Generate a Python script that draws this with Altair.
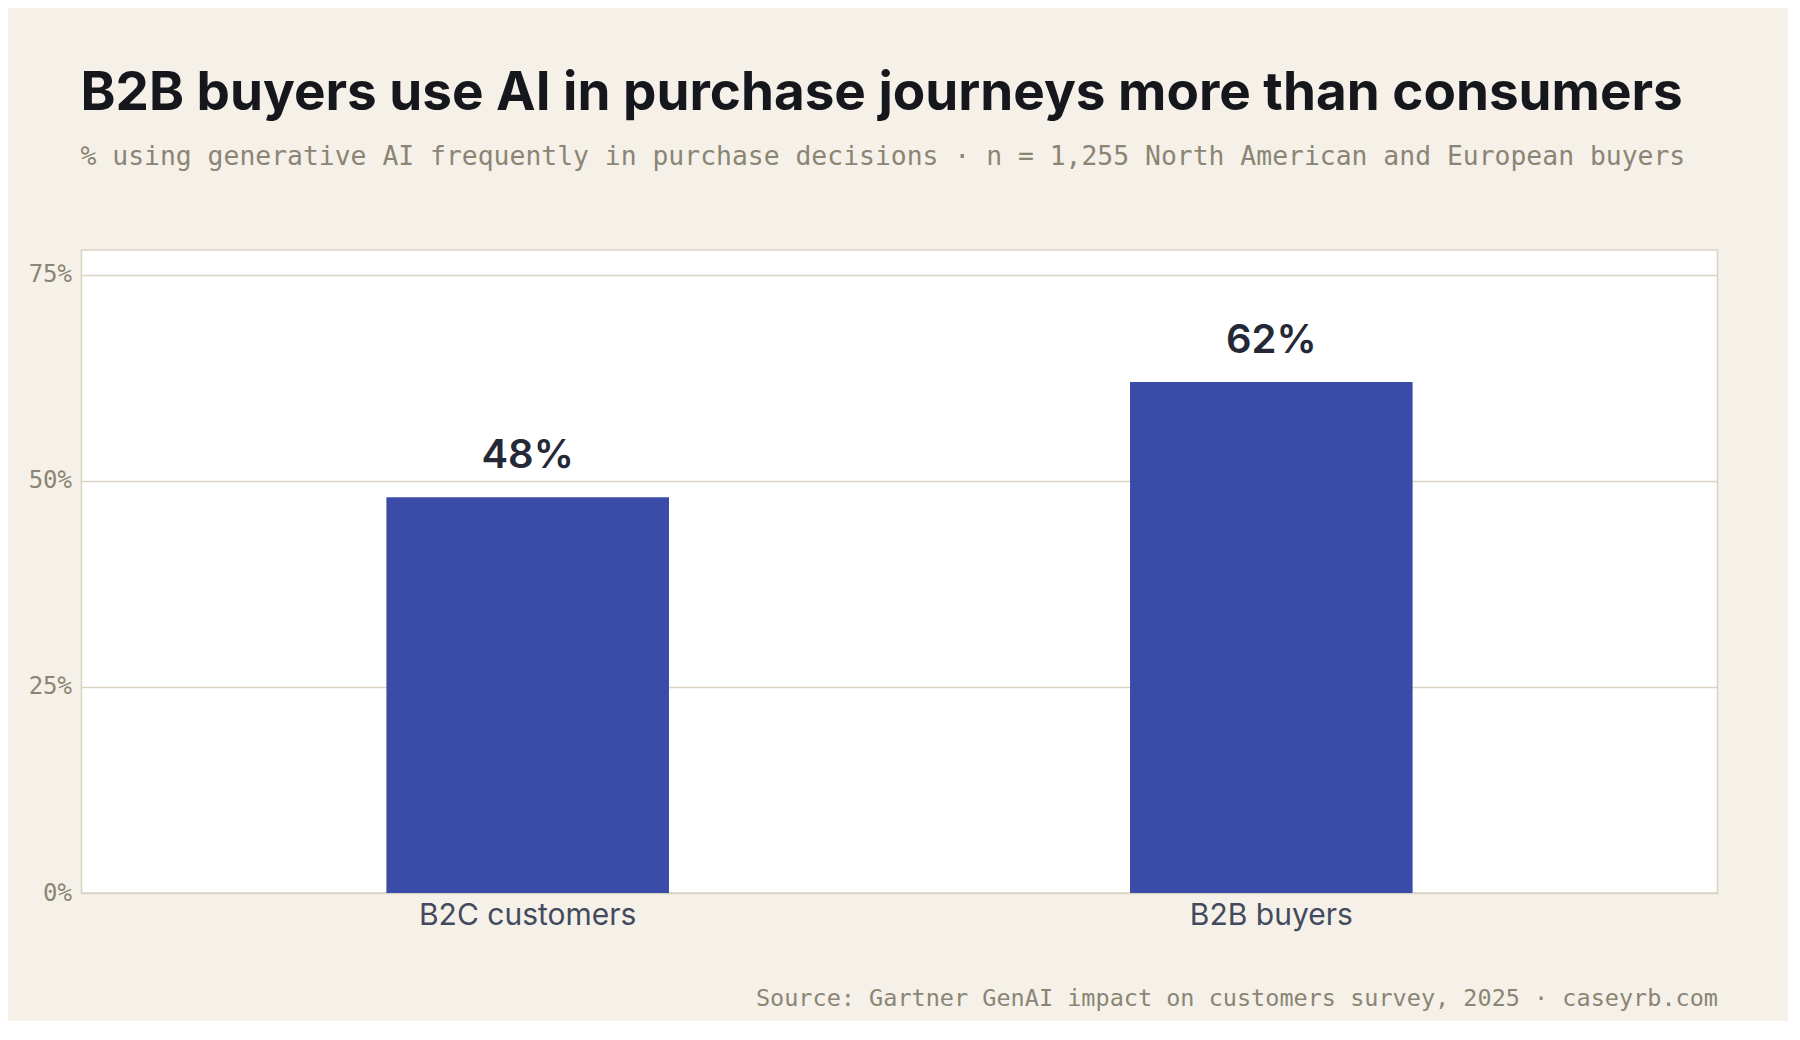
import altair as alt
import pandas as pd

categories = ["B2C customers", "B2B buyers"]
values = [48, 62]
y_ticks = [0, 25, 50, 75]

TITLE = "B2B buyers use AI in purchase journeys more than consumers"
SUBTITLE = "% using generative AI frequently in purchase decisions \u00b7 n = 1,255 North American and European buyers"
SOURCE = "Source: Gartner GenAI impact on customers survey, 2025 \u00b7 caseyrb.com"

df = pd.DataFrame({"segment": categories, "share": values})

BG = "#f5f1e9"
GRID = "#dbd3c3"
MUTED = "#8b8574"
BAR = "#3a4ba8"
MONO = "DejaVu Sans Mono"

x = alt.X(
    "segment:N",
    sort=categories,
    scale=alt.Scale(paddingInner=0.62, paddingOuter=0.41),
    axis=alt.Axis(
        title=SOURCE,
        titleFont=MONO,
        titleFontSize=23.5,
        titleFontWeight="normal",
        titleColor=MUTED,
        titleAnchor="end",
        titleAlign="right",
        titlePadding=56,
        labelFont="Inter",
        labelFontSize=30,
        labelColor="#444a5e",
        labelPadding=7,
        labelAngle=0,
        labelLimit=0,
        ticks=False,
        domain=False,
        grid=False,
    ),
)

y = alt.Y(
    "share:Q",
    scale=alt.Scale(domain=[0, 78], nice=False),
    axis=alt.Axis(
        title=None,
        values=y_ticks,
        labelExpr="datum.value + '%'",
        labelFont=MONO,
        labelFontSize=24,
        labelColor=MUTED,
        labelPadding=10,
        ticks=False,
        domain=False,
        grid=True,
        gridColor=GRID,
        gridWidth=1.5,
    ),
)

bars = alt.Chart(df).mark_bar(color=BAR).encode(x=x, y=y)

labels = (
    alt.Chart(df)
    .transform_calculate(lbl="datum.share + '%'")
    .mark_text(
        font="Inter",
        fontSize=40,
        fontWeight=600,
        color="#252836",
        baseline="alphabetic",
        align="center",
        dy=-29,
    )
    .encode(x=alt.X("segment:N", sort=categories), y="share:Q", text="lbl:N")
)

chart = (
    alt.layer(bars, labels)
    .properties(
        width=1636,
        height=643,
        background=BG,
        padding={"left": 73.5, "top": 242, "right": 70, "bottom": 128},
        autosize=alt.AutoSizeParams(type="none"),
        title=alt.Title(
            TITLE,
            subtitle=SUBTITLE,
            anchor="start",
            frame="group",
            font="Inter",
            fontSize=53,
            fontWeight="bold",
            color="#16161d",
            subtitleFont=MONO,
            subtitleFontSize=26.4,
            subtitleColor=MUTED,
            subtitlePadding=23,
            offset=80,
            dx=-1,
        ),
    )
    .configure_view(fill="white", stroke=GRID, strokeWidth=1.5)
)

chart.save("out.html", embed_options={"renderer": "svg", "actions": False})
